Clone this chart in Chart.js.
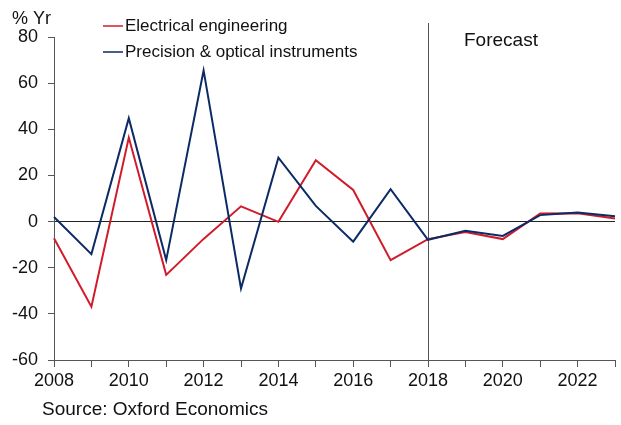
<!DOCTYPE html>
<html>
<head>
<meta charset="utf-8">
<script src="https://cdn.jsdelivr.net/npm/chart.js@4.4.1/dist/chart.umd.min.js"></script>
<style>
  html, body { margin: 0; padding: 0; background: #fff; }
  #wrap { position: relative; width: 621px; height: 425px; }
</style>
</head>
<body>
<div id="wrap"><canvas id="chart" width="621" height="425"></canvas></div>
<script>
// ---- data ----
const years = [2008, 2009, 2010, 2011, 2012, 2013, 2014, 2015, 2016, 2017, 2018, 2019, 2020, 2021, 2022, 2023];
const electrical = [-7.2, -36.9, 36.4, -23.1, -7.5, 6.6, -0.1, 26.6, 13.7, -16.7, -7.6, -4.5, -7.6, 3.5, 3.6, 1.3];
const precision = [2.0, -14.1, 44.8, -16.7, 65.5, -29.0, 27.7, 6.8, -8.7, 14.0, -7.9, -4.0, -6.2, 2.8, 3.9, 2.3];
const seriesNames = ["Electrical engineering", "Precision & optical instruments"];
const seriesColors = ["#d01c2a", "#0b2a66"];
const forecastYear = 2018;

const FONT = "'Liberation Sans', Arial, sans-serif";

// extra text + forecast divider + legend drawn on the canvas
const decorPlugin = {
    id: 'decor',
    beforeDatasetsDraw(chart) {
        const { ctx, chartArea, scales } = chart;
        const x = Math.round(scales.x.getPixelForValue(years.indexOf(forecastYear))) + 0.5;
        ctx.save();
        ctx.strokeStyle = '#555';
        ctx.lineWidth = 1;
        ctx.beginPath();
        ctx.moveTo(x, 23);
        ctx.lineTo(x, chartArea.bottom);
        ctx.stroke();
        ctx.restore();
    },
    afterDraw(chart) {
        const { ctx } = chart;
        ctx.save();
        ctx.fillStyle = '#111';
        ctx.textBaseline = 'middle';

        ctx.font = `18px ${FONT}`;
        ctx.fillText('% Yr', 12, 19);
        ctx.font = `19px ${FONT}`;
        ctx.fillText('Forecast', 464, 41);
        ctx.fillText('Source: Oxford Economics', 42, 410);

        // legend
        ctx.font = `17px ${FONT}`;
        const rows = [26, 52];
        seriesNames.forEach((name, i) => {
            ctx.strokeStyle = seriesColors[i];
            ctx.lineWidth = 1.5;
            ctx.beginPath();
            ctx.moveTo(103, rows[i]);
            ctx.lineTo(123, rows[i]);
            ctx.stroke();
            ctx.fillText(name, 125, rows[i]);
        });
        ctx.restore();
    }
};

new Chart(document.getElementById('chart'), {
    type: 'line',
    data: {
        labels: years,
        datasets: [
            {
                label: seriesNames[0],
                data: electrical,
                borderColor: seriesColors[0],
                borderWidth: 2,
                pointRadius: 0,
                tension: 0,
                order: 1
            },
            {
                label: seriesNames[1],
                data: precision,
                borderColor: seriesColors[1],
                borderWidth: 2,
                pointRadius: 0,
                tension: 0,
                order: 0
            }
        ]
    },
    options: {
        responsive: false,
        animation: false,
        events: [],
        layout: { padding: { left: 0, right: 6, top: 37, bottom: 35 } },
        plugins: {
            legend: { display: false },
            tooltip: { enabled: false }
        },
        scales: {
            x: {
                type: 'category',
                offset: false,
                afterFit: s => { s.height = 30; },
                grid: {
                    offset: false,
                    drawOnChartArea: false,
                    tickLength: 7,
                    tickColor: '#555'
                },
                border: { color: '#555' },
                ticks: {
                    autoSkip: false,
                    maxRotation: 0,
                    padding: 3,
                    color: '#111',
                    font: { family: FONT, size: 18 },
                    callback: function (v, i) {
                        const yr = years[i];
                        return yr % 2 === 0 ? String(yr) : '';
                    }
                }
            },
            y: {
                min: -60,
                max: 80,
                afterFit: s => { s.width = 54; },
                grid: {
                    color: c => (c.tick && c.tick.value === 0 ? '#222' : 'rgba(0,0,0,0)'),
                    lineWidth: 1,
                    tickLength: 6,
                    tickColor: '#555'
                },
                border: { color: '#555' },
                ticks: {
                    stepSize: 20,
                    padding: 10,
                    color: '#111',
                    font: { family: FONT, size: 18 }
                }
            }
        }
    },
    plugins: [decorPlugin]
});
</script>
</body>
</html>
